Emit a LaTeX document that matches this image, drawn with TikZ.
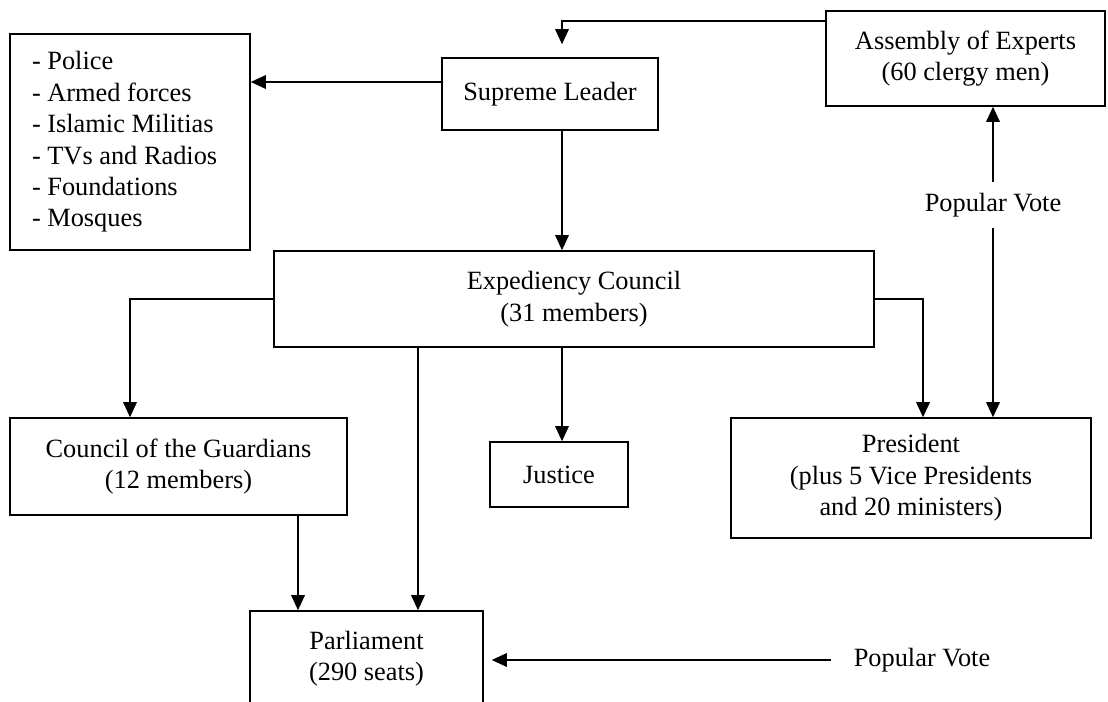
\documentclass[tikz,border=0pt]{standalone}
\usepackage{fontspec}
\setmainfont{Liberation Serif}
\usetikzlibrary{arrows.meta,positioning,calc}

\begin{document}
\begin{tikzpicture}[x=0.02cm,y=-0.02cm,
   box/.style={draw,line width=0.9pt,align=center,inner sep=0pt,font=\fontsize{15}{17.9}\selectfont},
   lbl/.style={font=\fontsize{15}{17.9}\selectfont,inner sep=6pt},
   arr/.style={line width=0.9pt,-{Triangle[length=0.3cm,width=0.27cm]}}]
  \path[use as bounding box,clip] (0,0) rectangle (1108,702);
  % top row
  \node[box,align=flush left,text width=3.92cm,minimum width=4.8cm,minimum height=4.32cm] (list) at (130,142)
     {- Police\\- Armed forces\\- Islamic Militias\\- TVs and Radios\\- Foundations\\- Mosques};
  \node[box,minimum width=4.32cm,minimum height=1.44cm] (sl) at (550,94) {Supreme Leader};
  \node[box,minimum width=5.58cm,minimum height=1.9cm] (aoe) at (965.5,58.5)
     {Assembly of Experts\\(60 clergy men)};
  \node[lbl] (pv1) at (993,205) {Popular Vote};
  % middle
  \node[box,minimum width=12cm,minimum height=1.92cm] (ec) at (574,299)
     {Expediency Council\\(31 members)};
  \node[box,minimum width=6.74cm,minimum height=1.94cm] (cog) at (178.5,466.5)
     {Council of the Guardians\\(12 members)};
  \node[box,minimum width=2.76cm,minimum height=1.3cm] (just) at (559,474.5) {Justice};
  \node[box,minimum width=7.2cm,minimum height=2.4cm] (pres) at (911,478)
     {President\\(plus 5 Vice Presidents\\and 20 ministers)};
  % bottom
  \node[box,minimum width=4.66cm,minimum height=1.9cm] (parl) at (366.5,658.5)
     {Parliament\\(290 seats)};
  \node[lbl,inner sep=13pt] (pv2) at (922,660) {Popular Vote};

  % connectors
  \coordinate (aoew) at ([yshift=-0.22cm]aoe.north west);
  \coordinate (slw) at ([yshift=0.24cm]sl.west);
  \coordinate (sls) at ([xshift=0.24cm]sl.south);
  \coordinate (ecs1) at ([xshift=-0.24cm]ec.south);
  \coordinate (parln) at ([xshift=1.03cm]parl.north);
  \coordinate (parlg) at ([xshift=-1.37cm]parl.north);
  \draw[arr,shorten >=0.26cm] (aoew) -| (sls |- sl.north);
  \draw[arr] (slw) -- (slw -| list.east);
  \draw[arr] (sls) -- (sls |- ec.north);
  \draw[arr] (ec.west) -| ([xshift=-0.97cm]cog.north);
  \draw[arr] (ec.east) -| ([xshift=0.24cm]pres.north);
  \draw[arr] (ecs1) -- (ecs1 |- just.north);
  \draw[arr] (parln |- ec.south) -- (parln);
  \draw[arr] (parlg |- cog.south) -- (parlg);
  \draw[arr] (pv1.north) -- (pv1.north |- aoe.south);
  \draw[arr] (pv1.south) -- (pv1.south |- pres.north);
  \draw[arr,shorten >=0.16cm] (pv2.west) -- (pv2.west -| parl.east);
\end{tikzpicture}
\end{document}
